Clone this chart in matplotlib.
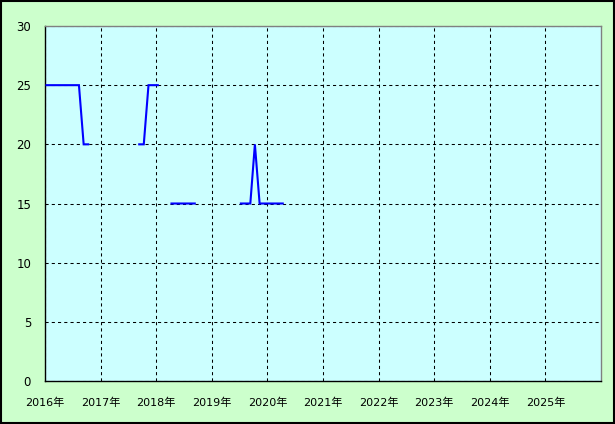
import numpy as np
import pandas as pd
import matplotlib
matplotlib.use('Agg')
import matplotlib.pyplot as plt
from matplotlib.patches import Rectangle

plt.rcParams['font.family'] = ['DejaVu Sans', 'Noto Sans CJK JP']

nan = np.nan
# monthly values, Jan 2016 .. Apr 2020 (gaps = no data)
start_month = '2016-01'
vals_2016 = [25, 25, 25, 25, 25, 25, 25, 25, 20, 20, nan, nan]
vals_2017 = [nan, nan, nan, nan, nan, nan, nan, nan, 20, 20, 25, 25]
vals_2018 = [25, nan, nan, 15, 15, 15, 15, 15, 15, nan, nan, nan]
vals_2019 = [nan, nan, nan, nan, nan, nan, 15, 15, 15, 20, 15, 15]
vals_2020 = [15, 15, 15, 15]
values = vals_2016 + vals_2017 + vals_2018 + vals_2019 + vals_2020

years = [2016, 2017, 2018, 2019, 2020, 2021, 2022, 2023, 2024, 2025]
year_labels = [f'{y}年' for y in years]
y_ticks = [0, 5, 10, 15, 20, 25, 30]

dates = pd.date_range(start_month, periods=len(values), freq='MS') + pd.Timedelta(days=10)

############################################################
# figure
############################################################
fig = plt.figure(figsize=(6.15, 4.24), dpi=100, facecolor='#ccffcc')
ax = fig.add_axes([45/615, 1 - 381/424, 556/615, 355/424])
ax.set_facecolor('#ccffff')

ax.plot(dates, values, color='#0000ff', lw=1.5, solid_capstyle='projecting',
        solid_joinstyle='miter', zorder=3)

ax.set_xlim(pd.Timestamp('2016-01-01'), pd.Timestamp('2026-01-01'))
ax.set_ylim(0, 30)
ax.set_xticks([pd.Timestamp(f'{y}-01-01') for y in years])
ax.set_xticklabels(year_labels, fontsize=8)
ax.set_yticks(y_ticks)
ax.set_yticklabels([str(v) for v in y_ticks], fontsize=8.5)
ax.tick_params(axis='both', length=0, colors='black')
ax.tick_params(axis='x', pad=12)
ax.tick_params(axis='y', pad=10)

ax.grid(True, color='black', linestyle=(0, (3, 3)), linewidth=0.75, zorder=1)
ax.set_axisbelow(True)

for s in ['top', 'right']:
    ax.spines[s].set_color('#808080')
for s in ['left', 'bottom']:
    ax.spines[s].set_color('black')
for s in ax.spines.values():
    s.set_linewidth(1.0)

# outer frame
fig.patches.append(Rectangle((0.0015, 0.002), 0.997, 0.996, transform=fig.transFigure,
                             fill=False, edgecolor='black', linewidth=1.5))

fig.savefig('out.png', dpi=100, facecolor=fig.get_facecolor())
